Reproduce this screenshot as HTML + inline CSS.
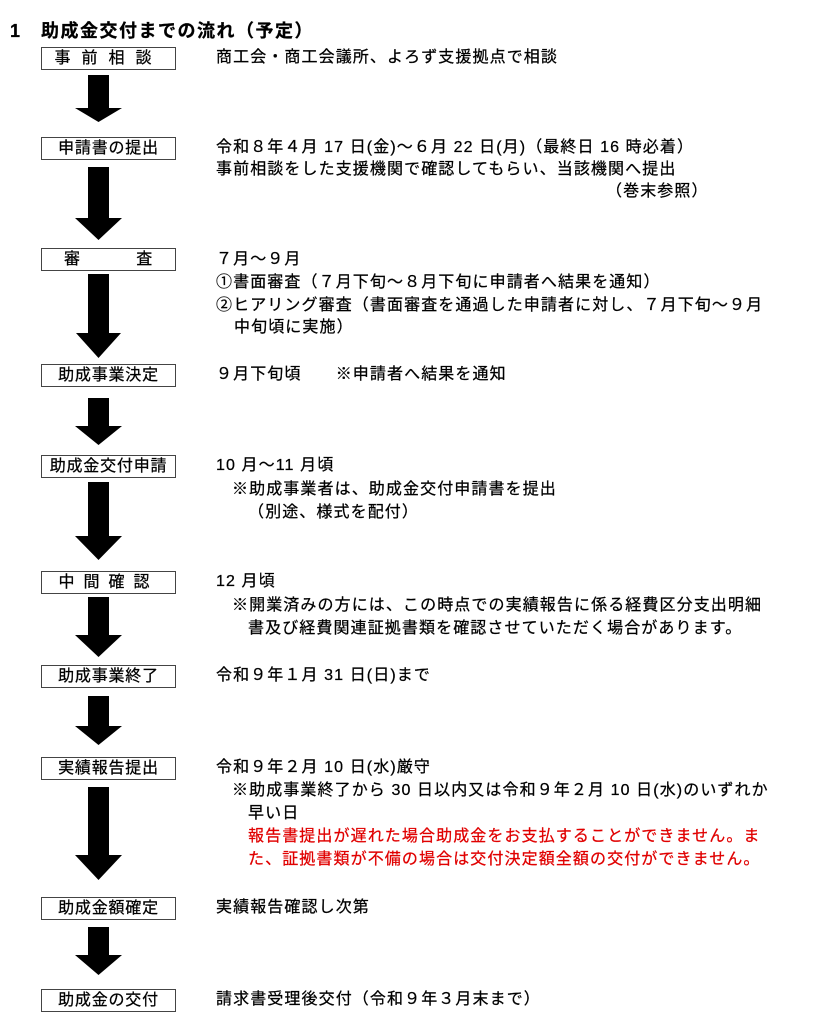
<!DOCTYPE html>
<html><head><meta charset="utf-8"><style>
body{margin:0;width:818px;height:1024px;background:#fff;position:relative;font-family:"Liberation Sans","Noto Sans CJK JP",sans-serif;color:#000;overflow:hidden}
.t{position:absolute;font-size:16px;letter-spacing:1.1px;line-height:22px;white-space:nowrap;-webkit-text-stroke:0.25px #000}
.b{position:absolute;left:41px;width:133px;height:21px;border:1px solid #444;font-size:16px;letter-spacing:0.8px;line-height:21px;text-align:center;-webkit-text-stroke:0.25px #000}
.r{color:#e00000;-webkit-text-stroke:0.25px #e00000}
svg{position:absolute;left:0;top:0}
</style></head><body>
<div class="t" style="left:10px;top:20px;font-size:18px;font-weight:bold;letter-spacing:1.5px">1　助成金交付までの流れ（予定）</div>
<div class="b" style="top:47px;letter-spacing:11px">事前相談</div>
<div class="b" style="top:137px">申請書の提出</div>
<div class="b" style="top:248px"><span style="position:absolute;left:22px">審</span><span style="position:absolute;right:22px">査</span></div>
<div class="b" style="top:364px">助成事業決定</div>
<div class="b" style="top:455px">助成金交付申請</div>
<div class="b" style="top:571px;letter-spacing:9px">中間確認</div>
<div class="b" style="top:665px">助成事業終了</div>
<div class="b" style="top:757px">実績報告提出</div>
<div class="b" style="top:897px">助成金額確定</div>
<div class="b" style="top:989px">助成金の交付</div>
<svg width="818" height="1024">
<g fill="#000">
<polygon points="88,75 109,75 109,108 122,108 98.5,122 75,108 88,108"/>
<polygon points="88,167 109,167 109,218 122,218 98.5,240 75,218 88,218"/>
<polygon points="88,274 109,274 109,333 121,333 98.5,358 76,333 88,333"/>
<polygon points="88,398 109,398 109,426 122,426 98.5,445 75,426 88,426"/>
<polygon points="88,482 109,482 109,536 122,536 98.5,560 75,536 88,536"/>
<polygon points="88,597 109,597 109,635 122,635 98.5,657 75,635 88,635"/>
<polygon points="88,696 109,696 109,726 122,726 98.5,745 75,726 88,726"/>
<polygon points="88,787 109,787 109,855 122,855 98.5,880 75,855 88,855"/>
<polygon points="88,927 109,927 109,955 122,955 98.5,975 75,955 88,955"/>
</g></svg>
<div class="t" style="left:216px;top:47px">商工会・商工会議所、よろず支援拠点で相談</div>
<div class="t" style="left:216px;top:137px">令和８年４月 17 日(金)～６月 22 日(月)（最終日 16 時必着）</div>
<div class="t" style="left:216px;top:159px">事前相談をした支援機関で確認してもらい、当該機関へ提出</div>
<div class="t" style="left:606px;top:181px">（巻末参照）</div>
<div class="t" style="left:216px;top:249px">７月～９月</div>
<div class="t" style="left:216px;top:272px">①書面審査（７月下旬～８月下旬に申請者へ結果を通知）</div>
<div class="t" style="left:216px;top:295px">②ヒアリング審査（書面審査を通過した申請者に対し、７月下旬～９月</div>
<div class="t" style="left:234px;top:317px">中旬頃に実施）</div>
<div class="t" style="left:216px;top:364px">９月下旬頃　　※申請者へ結果を通知</div>
<div class="t" style="left:216px;top:455px">10 月～11 月頃</div>
<div class="t" style="left:232px;top:479px">※助成事業者は、助成金交付申請書を提出</div>
<div class="t" style="left:248px;top:502px">（別途、様式を配付）</div>
<div class="t" style="left:216px;top:571px">12 月頃</div>
<div class="t" style="left:232px;top:595px">※開業済みの方には、この時点での実績報告に係る経費区分支出明細</div>
<div class="t" style="left:248px;top:618px">書及び経費関連証拠書類を確認させていただく場合があります。</div>
<div class="t" style="left:216px;top:665px">令和９年１月 31 日(日)まで</div>
<div class="t" style="left:216px;top:757px">令和９年２月 10 日(水)厳守</div>
<div class="t" style="left:232px;top:780px">※助成事業終了から 30 日以内又は令和９年２月 10 日(水)のいずれか</div>
<div class="t" style="left:248px;top:803px">早い日</div>
<div class="t r" style="left:248px;top:826px">報告書提出が遅れた場合助成金をお支払することができません。ま</div>
<div class="t r" style="left:248px;top:849px">た、証拠書類が不備の場合は交付決定額全額の交付ができません。</div>
<div class="t" style="left:216px;top:897px">実績報告確認し次第</div>
<div class="t" style="left:216px;top:989px">請求書受理後交付（令和９年３月末まで）</div>
</body></html>
